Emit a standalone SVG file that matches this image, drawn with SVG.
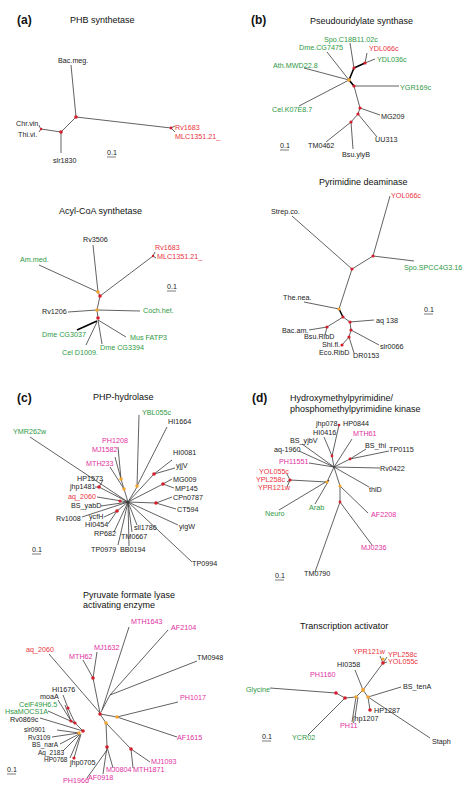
<svg xmlns="http://www.w3.org/2000/svg" width="474" height="802" viewBox="0 0 474 802">
<style>
text{font-family:"Liberation Sans",Arial,sans-serif;font-size:7.2px;fill:#222}
.t{font-size:9px;fill:#111}
.p{font-size:12px;font-weight:bold;fill:#111}
.r{fill:#ea3340}
.g{fill:#2e9944}
.m{fill:#e030a0}
.n{font-size:6.5px}
.e path{fill:none;stroke:#3a3a3a;stroke-width:0.8}
.e .k{stroke:#000;stroke-width:1.6}
.d{fill:#d41e2c}
.o{fill:#f2a530}
.s{stroke:#222;stroke-width:0.6}
</style>
<rect width="474" height="802" fill="#fff"/>

<!-- Panel a: PHB synthetase -->
<g id="phb">
<text class="p" x="17" y="24">(a)</text>
<text class="t" x="70" y="23">PHB synthetase</text>
<g class="e"><path d="M71,65L76,117L171,128M171,128L175,126M171,128L175,132M76,117L61,132L61,153M61,132L41,129M41,129L39,126M41,129L39,132"/></g>
<circle class="d" cx="76" cy="117" r="1.8"/><circle class="d" cx="61" cy="132" r="1.8"/><circle class="d" cx="171" cy="128" r="1.4"/><circle class="d" cx="41" cy="129" r="1.2"/>
<text x="58" y="63">Bac.meg.</text>
<text class="r" x="175" y="130">Rv1683</text>
<text class="r" x="175" y="139">MLC1351.21_</text>
<text x="16" y="126">Chr.vin.</text>
<text x="18" y="137">Thi.vi.</text>
<text x="53" y="163">slr1830</text>
<text x="107" y="155">0.1</text><path class="s" d="M107,157H116"/>
</g>

<!-- Acyl-CoA synthetase -->
<g id="acyl">
<text class="t" x="59" y="214">Acyl-CoA synthetase</text>
<g class="e"><path d="M93,245L98,292M39,265L98,292L100,296L153,256M153,256L155,252M153,256L156,258M100,296L97,310M68,312L97,310L140,311M97,310L98,318M86,345L97,322M102,344L98,320M126,337L98,320"/><path class="k" d="M77,330L97,321"/></g>
<circle class="o" cx="98" cy="292" r="1.8"/><circle class="d" cx="100" cy="296" r="1.8"/><circle class="o" cx="97" cy="310" r="1.8"/><circle class="d" cx="98" cy="318" r="1.8"/><circle class="d" cx="153" cy="256" r="1.2"/>
<text x="83" y="242">Rv3506</text>
<text class="r" x="155" y="250">Rv1683</text>
<text class="r" x="157" y="259">MLC1351.21_</text>
<text class="g" x="20" y="262">Am.med.</text>
<text x="167" y="289">0.1</text><path class="s" d="M167,291H176"/>
<text x="42" y="314">Rv1206</text>
<text class="g" x="143" y="313">Coch.het.</text>
<text class="g" x="42" y="337">Dme CG3037</text>
<text class="g" x="62" y="355">Cel D1009.</text>
<text class="g" x="100" y="350">Dme CG3394</text>
<text class="g" x="130" y="340">Mus FATP3</text>
</g>

<!-- Panel b: Pseudouridylate synthase -->
<g id="pseudo">
<text class="p" x="251" y="24">(b)</text>
<text class="t" x="310" y="24">Pseudouridylate synthase</text>
<g class="e"><path d="M327,52L349,80M304,68L349,80M299,106L349,80M350,43L354,68M365,63L367,53M365,63L375,59M354,86L399,86M354,86L360,108L380,115M360,108L358,114L377,137M358,114L351,122L326,142M351,122L353,149"/><path class="k" d="M354,68L349,80L354,86M354,68L365,63"/></g>
<circle class="o" cx="349" cy="80" r="1.8"/>
<circle class="d" cx="354" cy="68" r="1.6"/><circle class="d" cx="365" cy="63" r="1.6"/><circle class="d" cx="354" cy="86" r="1.6"/><circle class="d" cx="360" cy="108" r="1.6"/><circle class="d" cx="358" cy="114" r="1.6"/><circle class="d" cx="351" cy="122" r="1.6"/>
<text class="g" x="324" y="42">Spo.C18B11.02c</text>
<text class="g" x="299" y="50">Dme.CG7475</text>
<text class="r" x="369" y="51">YDL066c</text>
<text class="g" x="377" y="62">YDL036c</text>
<text class="g" x="273" y="68">Ath.MWD22.8</text>
<text class="g" x="400" y="90">YGR169c</text>
<text class="g" x="272" y="112">Cel.K07E8.7</text>
<text x="381" y="119">MG209</text>
<text x="375" y="142">UU313</text>
<text x="308" y="148">TM0462</text>
<text x="342" y="157">Bsu.ylyB</text>
<text x="280" y="148">0.1</text><path class="s" d="M280,150H289"/>
</g>

<!-- Pyrimidine deaminase -->
<g id="pyrimidine">
<text class="t" x="319" y="185">Pyrimidine deaminase</text>
<g class="e"><path d="M390,196L373,256L414,261M373,256L352,269M292,216L352,269L339,309M304,302L339,309M343,317L350,322L374,320M343,317L327,327L309,330M327,327L325,335M350,322L351,330L379,345M351,330L349,337L354,353M349,337L342,345"/><path class="k" d="M339,309L343,317"/></g>
<circle class="d" cx="373" cy="256" r="1.6"/><circle class="d" cx="352" cy="269" r="1.6"/><circle class="o" cx="339" cy="309" r="1.6"/><circle class="d" cx="343" cy="317" r="1.6"/><circle class="d" cx="350" cy="322" r="1.6"/><circle class="d" cx="327" cy="327" r="1.6"/><circle class="d" cx="351" cy="330" r="1.6"/><circle class="d" cx="349" cy="337" r="1.6"/><circle class="d" cx="342" cy="345" r="1.6"/>
<text class="r" x="391" y="198">YOL066c</text>
<text x="271" y="214">Strep.co.</text>
<text class="g" x="404" y="270">Spo.SPCC4G3.16</text>
<text x="283" y="300">The.nea.</text>
<text x="424" y="312">0.1</text><path class="s" d="M424,314H433"/>
<text x="376" y="323">aq 138</text>
<text x="282" y="333">Bac.am.</text>
<text x="304" y="339">Bsu.RibD</text>
<text x="322" y="347">Shi.fl.</text>
<text x="380" y="349">slr0066</text>
<text x="319" y="355">Eco.RibD</text>
<text x="353" y="358">DR0153</text>
</g>

<!-- Panel c: PHP-hydrolase -->
<g id="php">
<text class="p" x="17" y="402">(c)</text>
<text class="t" x="93" y="400">PHP-hydrolase</text>
<g class="e"><path d="M139,415L137,487L128,502M167,427L137,486M30,437L128,502M118,447L121,479M115,457L121,479M121,479L124,489L128,502M110,467L124,489M172,460L154,474L128,502M175,468L154,474M172,479L163,484L128,502M174,488L163,484M172,497L156,503L128,502M176,509L156,503M178,525L128,502M192,562L128,502M103,480L99,487L128,502M95,487L99,487M97,497L128,502M101,506L128,502M82,517L128,502M104,517L117,511L128,502M108,524L117,511M114,532L128,502M118,545L128,502M129,546L128,502M132,532L128,502M137,525L128,502"/></g>
<circle class="o" cx="137" cy="486" r="1.8"/><circle class="o" cx="121" cy="479" r="1.8"/><circle class="o" cx="124" cy="489" r="1.8"/>
<circle class="d" cx="154" cy="474" r="1.8"/><circle class="d" cx="163" cy="484" r="1.8"/><circle class="d" cx="156" cy="503" r="1.8"/><circle class="d" cx="99" cy="487" r="1.8"/><circle class="d" cx="120" cy="501" r="1.6"/><circle class="d" cx="117" cy="511" r="1.8"/>
<text class="g" x="142" y="415">YBL055c</text>
<text x="168" y="424">HI1664</text>
<text class="g" x="13" y="434">YMR262w</text>
<text class="m" x="102" y="443">PH1208</text>
<text class="m" x="92" y="452">MJ1582</text>
<text class="m" x="86" y="466">MTH233</text>
<text x="173" y="455">HI0081</text>
<text x="176" y="468">yjjV</text>
<text x="173" y="482">MG009</text>
<text x="175" y="491">MP145</text>
<text x="173" y="500">CPn0787</text>
<text x="177" y="512">CT594</text>
<text x="179" y="529">yigW</text>
<text x="192" y="566">TP0994</text>
<text x="77" y="481">HP1573</text>
<text x="70" y="489">jhp1481</text>
<text class="r" x="68" y="499">aq_2060</text>
<text x="71" y="508">BS_yabD</text>
<text x="56" y="521">Rv1008</text>
<text x="89" y="518.5">ycfH</text>
<text x="85" y="527">HI0454</text>
<text x="94" y="536">RP682</text>
<text x="91" y="552">TP0979</text>
<text x="120" y="552">BB0194</text>
<text x="121" y="538.5">TM0667</text>
<text x="134" y="530">sll1786</text>
<text x="32" y="552">0.1</text><path class="s" d="M32,554H41"/>
</g>

<!-- Pyruvate formate lyase activating enzyme -->
<g id="pyruvate">
<text class="t" x="83" y="598">Pyruvate formate lyase</text>
<text class="t" x="83" y="608">activating enzyme</text>
<g class="e"><path d="M49,654L100,713M83,660L93,678M97,652L93,678L100,713M129,627L102,710M168,630L110,695L101,712M197,661L110,695M178,702L117,717L100,714M177,737L117,717M100,714L106,723L131,749L150,762M131,749L133,768M106,723L107,747L113,768M107,747L103,774M87,778L107,750M63,695L68,708L75,723M58,700L71,721M65,705L71,721M48,711L75,723M71,721L75,723L83,731M40,718L83,731M57,730L79,733M52,737L79,733M60,744L79,734M63,751L80,734M70,758L80,735M74,758L81,734"/></g>
<circle class="d" cx="100" cy="714" r="1.8"/><circle class="d" cx="93" cy="678" r="1.8"/><circle class="o" cx="117" cy="717" r="1.8"/><circle class="o" cx="106" cy="723" r="1.8"/><circle class="d" cx="131" cy="749" r="1.8"/><circle class="d" cx="107" cy="747" r="1.8"/>
<circle class="d" cx="68" cy="708" r="1.6"/><circle class="d" cx="71" cy="721" r="1.6"/><circle class="d" cx="75" cy="723" r="1.6"/><circle class="d" cx="83" cy="731" r="1.8"/><circle class="o" cx="79" cy="733" r="1.8"/><circle class="d" cx="74" cy="758" r="1.6"/>
<text class="m" x="131" y="624">MTH1643</text>
<text class="m" x="171" y="630">AF2104</text>
<text class="r" x="26" y="652">aq_2060</text>
<text class="m" x="94" y="650">MJ1632</text>
<text class="m" x="69" y="659">MTH62</text>
<text x="197" y="660">TM0948</text>
<text class="m" x="180" y="700">PH1017</text>
<text x="52" y="692">HI1676</text>
<text x="40" y="699">moaA</text>
<text class="g" x="19" y="706.5">CelF49H6.5</text>
<text class="g" x="5" y="714">HsaMOCS1A</text>
<text x="10" y="721.5">Rv0869c</text>
<text class="n" x="24" y="732">slr0901</text>
<text class="n" x="28" y="739.5">Rv3109</text>
<text class="n" x="32" y="747">BS_narA</text>
<text class="n" x="38" y="754.5">Aq_2183</text>
<text class="n" x="44" y="762">HP0768</text>
<text x="70" y="765">jhp0705</text>
<text class="m" x="177" y="740">AF1615</text>
<text class="m" x="151" y="764">MJ1093</text>
<text class="m" x="106" y="772">MJ0804</text>
<text class="m" x="133" y="772">MTH1871</text>
<text class="m" x="88" y="779.5">AF0918</text>
<text class="m" x="63" y="783">PH1966</text>
<text x="7" y="772">0.1</text><path class="s" d="M7,774H16"/>
</g>

<!-- Panel d: HMP kinase -->
<g id="hmp">
<text class="p" x="252" y="402">(d)</text>
<text class="t" x="290" y="401">Hydroxymethylpyrimidine/</text>
<text class="t" x="290" y="412">phosphomethylpyrimidine kinase</text>
<g class="e"><path d="M339,425L332,456L334,467M324,437L332,456M352,439L334,467M302,444L334,467M299,451L334,467M366,449L350,459L334,467M389,451L350,459M309,463L334,467M380,468L334,467M369,487L334,467M287,474L290,480L327,482L334,467M287,482L290,480M287,487L290,480M279,510L329,480M315,504L329,480M334,467L340,486L368,513M340,486L340,502L372,545M340,502L315,572"/></g>
<circle class="d" cx="339" cy="425" r="1.3"/><circle class="d" cx="332" cy="456" r="1.4"/><circle class="d" cx="350" cy="459" r="1.4"/><circle class="d" cx="290" cy="480" r="1.6"/><circle class="o" cx="327" cy="482" r="1.6"/><circle class="o" cx="340" cy="486" r="1.6"/><circle class="d" cx="340" cy="502" r="1.4"/>
<text x="316" y="426">jhp078</text>
<text x="343" y="426">HP0844</text>
<text x="313" y="435">HI0416</text>
<text class="m" x="353" y="436">MTH61</text>
<text x="290" y="443">BS_yjbV</text>
<text x="365" y="448">BS_thi</text>
<text x="389" y="452">TP0115</text>
<text x="274" y="452">aq-1960</text>
<text class="m" x="279" y="464">PH11551</text>
<text x="380" y="471">Rv0422</text>
<text class="r" x="259" y="474">YOL055c</text>
<text class="r" x="256" y="482">YPL258c</text>
<text class="r" x="258" y="490">YPR121w</text>
<text x="369" y="492">thiD</text>
<text class="g" x="265" y="516">Neuro</text>
<text class="g" x="309" y="510">Arab</text>
<text class="m" x="371" y="517">AF2208</text>
<text class="m" x="361" y="550">MJ0236</text>
<text x="304" y="576">TM0790</text>
<text x="275" y="578">0.1</text><path class="s" d="M275,580H284"/>
</g>

<!-- Transcription activator -->
<g id="transcription">
<text class="t" x="300" y="629">Transcription activator</text>
<g class="e"><path d="M270,688L336,693L345,698L356,697L363,690L368,697M308,735L345,698M352,722L356,697M355,717L358,697M355,670L363,690L383,663M383,663L380,656M383,663L387,657M383,663L387,662M401,687L368,697L430,738M370,710L368,697"/></g>
<circle class="d" cx="336" cy="693" r="1.8"/><circle class="d" cx="345" cy="698" r="1.8"/><circle class="o" cx="356" cy="697" r="1.8"/><circle class="o" cx="363" cy="690" r="2"/><circle class="o" cx="368" cy="697" r="1.8"/><circle class="o" cx="383" cy="659" r="1.6"/><circle class="d" cx="383" cy="663" r="1.8"/><circle class="d" cx="370" cy="710" r="1.8"/>
<text class="r" x="353" y="654">YPR121w</text>
<text class="r" x="388" y="656.5">YPL258c</text>
<text class="r" x="388" y="664">YOL055c</text>
<text x="337" y="667">HI0358</text>
<text class="m" x="310" y="677">PH1160</text>
<text x="403" y="689">BS_tenA</text>
<text class="g" x="246" y="692">Glycine</text>
<text x="374" y="713">HP1287</text>
<text x="353" y="721">jhp1207</text>
<text class="m" x="340" y="728">PH11</text>
<text class="g" x="292" y="740">YCR02</text>
<text x="432" y="744">Staph</text>
<text x="262" y="739">0.1</text><path class="s" d="M262,741H271"/>
</g>
</svg>
